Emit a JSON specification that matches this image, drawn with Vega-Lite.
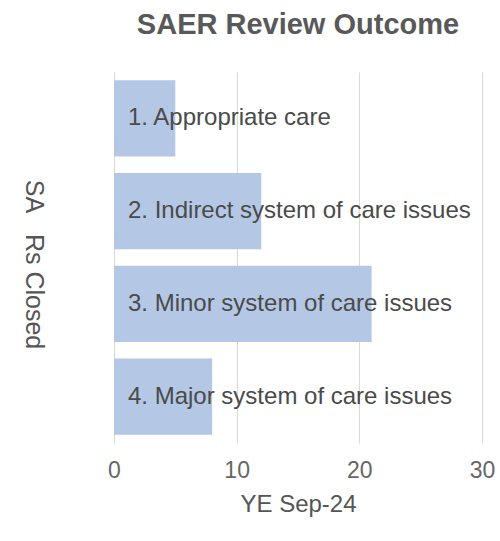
{
  "$schema": "https://vega.github.io/schema/vega-lite/v6.json",
  "autosize": "none",
  "width": 368,
  "height": 371,
  "padding": {"left": 114, "top": 72, "right": 18, "bottom": 98},
  "background": "white",
  "title": {
    "text": "SAER Review Outcome",
    "font": "Liberation Sans",
    "fontSize": 29,
    "fontWeight": "bold",
    "color": "#595959",
    "anchor": "middle",
    "offset": 32
  },
  "data": {
    "values": [
      {"outcome": "1. Appropriate care", "count": 5},
      {"outcome": "2. Indirect system of care issues", "count": 12},
      {"outcome": "3. Minor system of care issues", "count": 21},
      {"outcome": "4. Major system of care issues", "count": 8}
    ]
  },
  "config": {
    "view": {"stroke": null},
    "font": "Liberation Sans"
  },
  "encoding": {
    "y": {
      "field": "outcome",
      "type": "nominal",
      "sort": "ascending",
      "scale": {"paddingInner": 0.18, "paddingOuter": 0.09},
      "axis": {
        "labels": false,
        "ticks": false,
        "domain": false,
        "title": "SA\u00a0\u00a0\u00a0Rs Closed",
        "titleAngle": 90,
        "titleFontSize": 25,
        "titleFontWeight": "normal",
        "titleColor": "#555555",
        "titleFont": "Liberation Sans",
        "titleX": -81,
        "titleY": 192,
        "titleAlign": "center",
        "titleBaseline": "middle"
      }
    }
  },
  "layer": [
    {
      "mark": {"type": "bar", "color": "#b4c8e6"},
      "encoding": {
        "x": {
          "field": "count",
          "type": "quantitative",
          "scale": {"domain": [0, 30]},
          "axis": {
            "values": [0, 10, 20, 30],
            "domain": false,
            "ticks": false,
            "grid": true,
            "gridColor": "#d9d9d9",
            "labelFontSize": 23,
            "labelColor": "#666666",
            "labelPadding": 16,
            "labelFlush": false,
            "labelFont": "Liberation Sans",
            "title": "YE Sep-24",
            "titleFontSize": 24,
            "titleFontWeight": "normal",
            "titleColor": "#555555",
            "titlePadding": 10
          }
        }
      }
    },
    {
      "mark": {"type": "text", "align": "left", "baseline": "middle", "dx": 14, "fontSize": 24, "color": "#4a4a4a", "font": "Liberation Sans"},
      "encoding": {
        "x": {"datum": 0, "type": "quantitative"},
        "text": {"field": "outcome"}
      }
    }
  ]
}
